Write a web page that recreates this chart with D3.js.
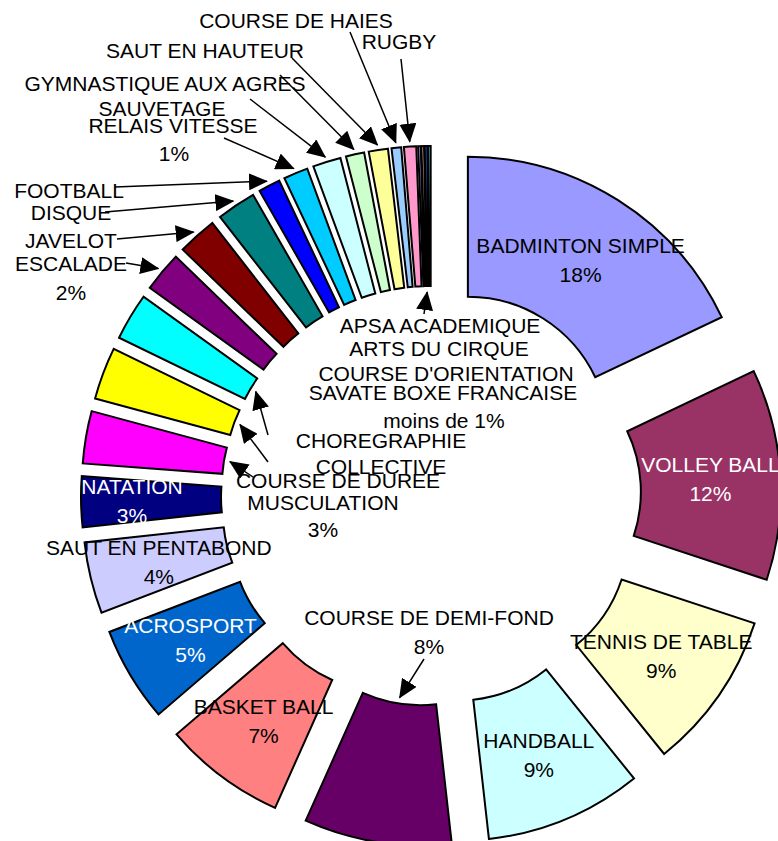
<!DOCTYPE html>
<html>
<head>
<meta charset="utf-8">
<script src="https://cdn.jsdelivr.net/npm/d3@7"></script>
<style>
  body { margin: 0; background: #fff; }
  svg text { font-family: "Liberation Sans", Arial, sans-serif; font-size: 21px; }
</style>
</head>
<body>
<svg id="chart" width="778" height="841"></svg>
<script>
// Exploded doughnut - share of each APSA (percent)

const categories = [
  "BADMINTON SIMPLE", "VOLLEY BALL", "TENNIS DE TABLE", "HANDBALL",
  "COURSE DE DEMI-FOND", "BASKET BALL", "ACROSPORT", "SAUT EN PENTABOND",
  "NATATION", "MUSCULATION", "COURSE DE DUREE", "CHOREGRAPHIE COLLECTIVE",
  "ESCALADE", "JAVELOT", "DISQUE", "FOOTBALL", "RELAIS VITESSE", "SAUVETAGE",
  "GYMNASTIQUE AUX AGRES", "SAUT EN HAUTEUR", "COURSE DE HAIES", "RUGBY",
  "APSA ACADEMIQUE", "ARTS DU CIRQUE", "COURSE D'ORIENTATION", "SAVATE BOXE FRANCAISE"
];

const values = [
  17.9, 12.1, 9.1, 9.0,
  8.45, 7.0, 5.45, 4.1,
  2.9, 3.0, 3.0, 2.7,
  2.3, 2.25, 2.25, 1.25, 1.4, 1.6,
  1.05, 1.1, 0.55, 0.7,
  0.15, 0.15, 0.15, 0.15
];

// slices labelled inside, and those with white text
const insideLabels = ["BADMINTON SIMPLE", "VOLLEY BALL", "TENNIS DE TABLE", "HANDBALL",
  "BASKET BALL", "ACROSPORT", "SAUT EN PENTABOND", "NATATION"];
const whiteLabels = ["VOLLEY BALL", "ACROSPORT", "NATATION"];
// the natation label was dragged a bit to the left in the original
const labelNudge = { "NATATION": -19 };

const palette = [
  "#9999FF", "#993366", "#FFFFCC", "#CCFFFF", "#660066", "#FF8080", "#0066CC", "#CCCCFF",
  "#000080", "#FF00FF", "#FFFF00", "#00FFFF", "#800080", "#800000", "#008080", "#0000FF",
  "#00CCFF", "#CCFFFF", "#CCFFCC", "#FFFF99", "#99CCFF", "#FF99CC", "#CC99FF", "#FFCC99",
  "#3366FF", "#33CCCC"
];

// free text boxes placed around the ring
const notes = [
  { lines: ["COURSE DE HAIES"], x: 296, y: 21 },
  { lines: ["RUGBY"], x: 399, y: 42 },
  { lines: ["SAUT EN HAUTEUR"], x: 205, y: 51 },
  { lines: ["GYMNASTIQUE AUX AGRES"], x: 165, y: 84 },
  { lines: ["SAUVETAGE"], x: 162, y: 109 },
  { lines: ["RELAIS VITESSE"], x: 173, y: 126 },
  { lines: ["1%"], x: 174, y: 154 },
  { lines: ["FOOTBALL"], x: 69, y: 191 },
  { lines: ["DISQUE"], x: 71, y: 213 },
  { lines: ["JAVELOT"], x: 71, y: 241 },
  { lines: ["ESCALADE"], x: 71, y: 264 },
  { lines: ["2%"], x: 71, y: 293 },
  { lines: ["APSA ACADEMIQUE"], x: 440, y: 326 },
  { lines: ["ARTS DU CIRQUE"], x: 439, y: 349 },
  { lines: ["COURSE D'ORIENTATION"], x: 446, y: 374 },
  { lines: ["SAVATE BOXE FRANCAISE"], x: 443, y: 393 },
  { lines: ["moins de 1%"], x: 444, y: 421 },
  { lines: ["CHOREGRAPHIE"], x: 381, y: 441 },
  { lines: ["COLLECTIVE"], x: 381, y: 467 },
  { lines: ["COURSE DE DUREE"], x: 338, y: 481 },
  { lines: ["MUSCULATION"], x: 323, y: 503 },
  { lines: ["3%"], x: 323, y: 530 },
  { lines: ["COURSE DE DEMI-FOND"], x: 429, y: 618 },
  { lines: ["8%"], x: 429, y: 647 }
];

// leader arrows: tail point, target slice(s), which edge of the ring
const arrows = [
  { to: ["COURSE DE HAIES"], tail: [350, 32], side: "out" },
  { to: ["RUGBY"], tail: [401, 59], side: "out" },
  { to: ["SAUT EN HAUTEUR"], tail: [292, 58], side: "out" },
  { to: ["GYMNASTIQUE AUX AGRES"], tail: [280, 75], side: "out" },
  { to: ["SAUVETAGE"], tail: [250, 99], side: "out" },
  { to: ["RELAIS VITESSE"], tail: [224, 138], side: "out" },
  { to: ["FOOTBALL"], tail: [115, 187], side: "out" },
  { to: ["DISQUE"], tail: [105, 212], side: "out" },
  { to: ["JAVELOT"], tail: [117, 239], side: "out" },
  { to: ["ESCALADE"], tail: [126, 263], side: "out" },
  { to: ["CHOREGRAPHIE COLLECTIVE"], tail: [268, 435], side: "in" },
  { to: ["COURSE DE DUREE"], tail: [268, 462], side: "in" },
  { to: ["MUSCULATION"], tail: [253, 477], side: "in" },
  { to: ["COURSE DE DEMI-FOND"], tail: [424, 659], side: "in" },
  { to: ["APSA ACADEMIQUE", "ARTS DU CIRQUE", "COURSE D'ORIENTATION", "SAVATE BOXE FRANCAISE"],
    tail: [424, 314], side: "in" }
];

const cx = 431, cy = 496;
const rIn = 141, rOut = 281, explode = 69;

const svg = d3.select("#chart");

svg.append("defs").append("marker")
  .attr("id", "head")
  .attr("markerUnits", "userSpaceOnUse")
  .attr("viewBox", "0 0 19 17")
  .attr("markerWidth", 19).attr("markerHeight", 17)
  .attr("refX", 18).attr("refY", 8.5)
  .attr("orient", "auto")
  .append("path")
  .attr("d", "M0,0 L19,8.5 L0,17 Z")
  .attr("fill", "#000");

const data = categories.map((c, i) => ({ name: c, value: values[i] }));
const total = d3.sum(values);

const pie = d3.pie().sort(null).value(d => d.value);
const arcs = pie(data);
const arc = d3.arc().innerRadius(rIn).outerRadius(rOut);

const color = d3.scaleOrdinal().domain(categories).range(palette);

// unit vector for an angle measured clockwise from 12 o'clock
function dir(a) { return [Math.sin(a), -Math.cos(a)]; }

function sliceCenter(d) {
  const u = dir((d.startAngle + d.endAngle) / 2);
  return [cx + u[0] * explode, cy + u[1] * explode];
}

const slices = svg.append("g").selectAll("g")
  .data(arcs)
  .join("g")
  .attr("transform", d => "translate(" + sliceCenter(d) + ")");

slices.append("path")
  .attr("d", arc)
  .attr("fill", d => color(d.data.name))
  .attr("stroke", "#000")
  .attr("stroke-width", 2)
  .attr("stroke-linejoin", "miter");

// labels inside the slices
const inside = slices.filter(d => insideLabels.includes(d.data.name));
inside.each(function(d) {
  const g = d3.select(this);
  const p = arc.centroid(d);
  const x = p[0] + (labelNudge[d.data.name] || 0);
  const fill = whiteLabels.includes(d.data.name) ? "#fff" : "#000";
  g.append("text")
    .attr("x", x).attr("y", p[1] - 14)
    .attr("dy", "0.35em")
    .attr("text-anchor", "middle")
    .attr("fill", fill)
    .text(d.data.name);
  g.append("text")
    .attr("x", x).attr("y", p[1] + 15)
    .attr("dy", "0.35em")
    .attr("text-anchor", "middle")
    .attr("fill", fill)
    .text(Math.round(d.value / total * 100) + "%");
});

// free text
svg.append("g").selectAll("text")
  .data(notes)
  .join("text")
  .attr("x", d => d.x)
  .attr("y", d => d.y)
  .attr("dy", "0.35em")
  .attr("text-anchor", "middle")
  .attr("fill", "#000")
  .text(d => d.lines[0]);

// arrows, the tip sits just off the ring at the slice middle
function arrowTip(a) {
  const group = arcs.filter(d => a.to.includes(d.data.name));
  const start = d3.min(group, d => d.startAngle);
  const end = d3.max(group, d => d.endAngle);
  const u = dir((start + end) / 2);
  const c = [cx + u[0] * explode, cy + u[1] * explode];
  const r = a.side === "out" ? rOut + 5 : rIn - 6;
  return [c[0] + u[0] * r, c[1] + u[1] * r];
}

svg.append("g").selectAll("line")
  .data(arrows)
  .join("line")
  .attr("x1", d => d.tail[0])
  .attr("y1", d => d.tail[1])
  .attr("x2", d => arrowTip(d)[0])
  .attr("y2", d => arrowTip(d)[1])
  .attr("stroke", "#000")
  .attr("stroke-width", 1.5)
  .attr("marker-end", "url(#head)");
</script>
</body>
</html>
